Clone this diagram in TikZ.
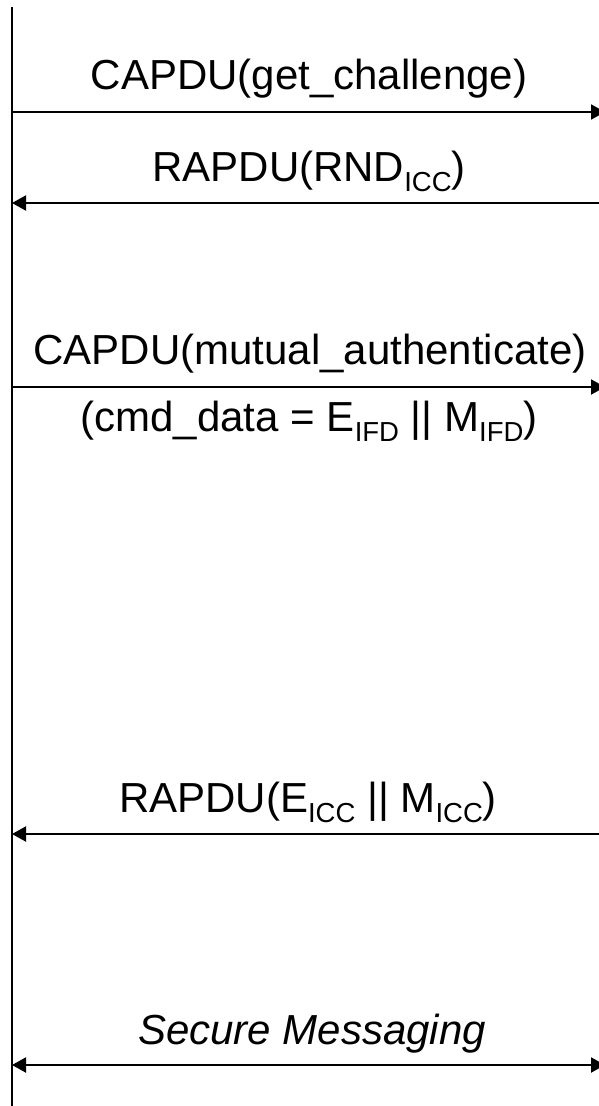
\documentclass[tikz,border=0pt]{standalone}
\usepackage{fontspec}
\setmainfont{Liberation Sans}
\usetikzlibrary{arrows.meta}
\newcommand{\lsub}[1]{\raisebox{-10pt}{\fontsize{27.5}{28}\selectfont #1}}
\tikzset{
  lbl/.style={anchor=base, inner sep=0pt, font=\fontsize{42}{48}\selectfont},
  msg/.style={line width=2pt},
  tip/.style={-{Triangle[length=14pt,width=15pt]}},
  bothtip/.style={{Triangle[length=14pt,width=15pt]}-{Triangle[length=14pt,width=15pt]}}
}
\begin{document}
\begin{tikzpicture}[x=1pt,y=-1pt]
\useasboundingbox (0,0) rectangle (599,1106);
\clip (0,0) rectangle (599,1106);
% lifeline
\coordinate (ltop) at (12,7);
\coordinate (lbot) at (12,1110);
\draw[line width=2pt] (ltop) -- (lbot);
% message end points
\coordinate (l1) at (12,112);  \coordinate (r1) at (605,112);
\coordinate (l2) at (12,203);  \coordinate (r2) at (605,203);
\coordinate (l3) at (12,387);  \coordinate (r3) at (605,387);
\coordinate (l4) at (12,834);  \coordinate (r4) at (605,834);
\coordinate (l5) at (12,1065); \coordinate (r5) at (605,1065);
% labels
\node[lbl] (t1) at (309,89) {CAPDU(get\_challenge)};
\node[lbl] (t2) at (309,181) {RAPDU(RND\lsub{ICC})};
\node[lbl] (t3) at (310,364) {CAPDU(mutual\_authenticate)};
\node[lbl] (t4) at (309,431) {(cmd\_data = E\lsub{IFD} || M\lsub{IFD})};
\node[lbl] (t5) at (308,812) {RAPDU(E\lsub{ICC} || M\lsub{ICC})};
\node[lbl, font=\fontsize{42}{48}\selectfont\itshape] (t6) at (312,1044) {Secure Messaging};
% messages
\draw[msg, tip] (l1) -- (r1);
\draw[msg, tip] (r2) -- (l2);
\draw[msg, tip] (l3) -- (r3);
\draw[msg, tip] (r4) -- (l4);
\draw[msg, bothtip] (l5) -- (r5);
\end{tikzpicture}
\end{document}
